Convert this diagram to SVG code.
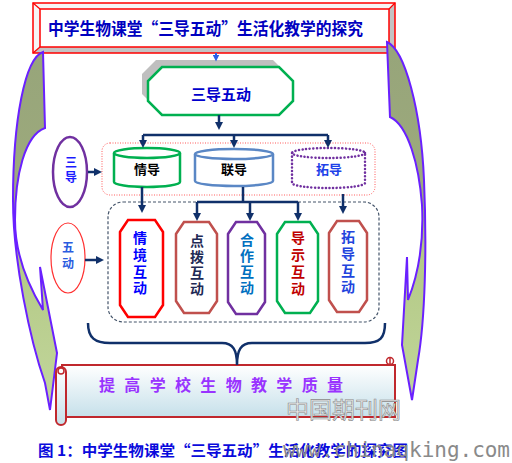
<svg xmlns="http://www.w3.org/2000/svg" width="512" height="463" viewBox="0 0 512 463">
<style>
text{font-family:"Noto Sans CJK SC","Noto Sans",sans-serif;font-weight:bold}
.c{text-anchor:middle}
.nv{stroke:#10306a;stroke-width:2.5;fill:none}
.big{fill:url(#ga);stroke:#6a20ff;stroke-width:2}
.oct{fill:#fff;stroke-width:2.5}
.v{font-size:14px;writing-mode:vertical-rl;text-orientation:upright}
.v12{font-size:12px;writing-mode:vertical-rl;text-orientation:upright}
</style>
<defs>
<marker id="ah" viewBox="0 0 10 10" refX="5" refY="5" markerWidth="3.2" markerHeight="3.2" orient="auto"><path d="M0,0L10,5L0,10Z" fill="#10306a"/></marker>
<marker id="ab" viewBox="0 0 10 10" refX="5" refY="5" markerWidth="3.5" markerHeight="3.5" orient="auto"><path d="M0,0L10,5L0,10Z" fill="#2a5ee8"/></marker>
<linearGradient id="ga" gradientUnits="userSpaceOnUse" x1="0" y1="52" x2="0" y2="410">
<stop offset="0" stop-color="#97a57a"/><stop offset="0.45" stop-color="#9eab7d"/><stop offset="0.55" stop-color="#b3c985"/><stop offset="1" stop-color="#c2d69c"/>
</linearGradient>
<linearGradient id="gs" x1="0" y1="0" x2="0" y2="1">
<stop offset="0" stop-color="#ffffff"/><stop offset="1" stop-color="#c6e0ea"/>
</linearGradient>
</defs>
<rect width="512" height="463" fill="#fff"/>

<g id="title">
<polygon points="33,3 395,3 389,9 40,9" fill="#f6f6f6"/>
<polygon points="33,3 40,9 40,47 33,53" fill="#f6f6f6"/>
<polygon points="395,3 395,53 389,47 389,9" fill="#c4c4c4"/>
<polygon points="33,53 395,53 389,47 40,47" fill="#c4c4c4"/>
<rect x="40" y="9" width="349" height="38" fill="#fff" stroke="#ff0000" stroke-width="1.5"/>
<rect x="33" y="3" width="362" height="50" fill="none" stroke="#ff0000" stroke-width="1.5"/>
<path d="M33,3L40,9M395,3L389,9M33,53L40,47M395,53L389,47" stroke="#ff0000" stroke-width="1.2"/>
<text x="48" y="35" font-size="16.5" fill="#0000c0" textLength="315" lengthAdjust="spacingAndGlyphs">中学生物课堂“三导五动”生活化教学的探究</text>
</g>

<g id="leftArrow"><path class="big" d="M43,52 C25,58 13,120 13,200 C13,260 30,340 45,383 L50,410 L57,353 L40,267 L43,310 C25,280 15,250 15,220 C15,175 25,135 45,128 Z"/></g>
<g id="rightArrow"><path class="big" d="M387,42 C405,50 421,110 424,180 C427,250 425,320 418,360 L412,400 L402,345 L407,257 L408,300 C418,275 424,245 422,205 C419,165 408,125 390,117 Z"/></g>

<g id="main">
<polygon points="156,60 273,60 287,74 287,94 273,108 156,108 142,94 142,74" fill="#bfbfbf"/>
<polygon class="oct" stroke="#00b050" points="162,67 279,67 293,81 293,101 279,115 162,115 148,101 148,81"/>
<text class="c" x="221" y="100" font-size="15" fill="#0000cc">三导五动</text>
</g>

<g id="sandao">
<ellipse cx="70" cy="172" rx="17" ry="35" fill="#fff" stroke="#7030a0" stroke-width="2.5"/>
<text class="v12" x="71" y="156" letter-spacing="3" fill="#1a1aff">三导</text>
</g>
<g id="wudong">
<ellipse cx="68" cy="258" rx="17" ry="35" fill="#fff" stroke="#ff3030" stroke-width="1.2"/>
<text class="v12" x="68" y="241" letter-spacing="4" fill="#2a5ce0">五动</text>
</g>

<g id="daoGroup"><rect x="102" y="143" width="273" height="52" rx="8" fill="none" stroke="#ff5a5a" stroke-width="1" stroke-dasharray="1 1.5"/></g>
<g id="dongGroup"><rect x="108" y="202" width="271" height="120" rx="15" fill="none" stroke="#44546a" stroke-width="1.2" stroke-dasharray="3 2"/></g>

<g id="qingdao">
<path d="M114,153 L114,182 A33,5 0 0 0 180,182 L180,153" fill="#fff" stroke="#00b050" stroke-width="2.5"/>
<ellipse cx="147" cy="153" rx="33" ry="5" fill="#fff" stroke="#00b050" stroke-width="2.5"/>
<text class="c" x="147" y="174" font-size="13" fill="#000">情导</text>
</g>
<g id="liandao">
<path d="M195,154 L195,181 A39,5 0 0 0 273,181 L273,154" fill="#fff" stroke="#5a87c5" stroke-width="2.5"/>
<ellipse cx="234" cy="154" rx="39" ry="5" fill="#fff" stroke="#5a87c5" stroke-width="2.5"/>
<text class="c" x="234" y="174" font-size="13" fill="#000">联导</text>
</g>
<g id="tuodao">
<path d="M292,153 L292,183 A36.5,5 0 0 0 365,183 L365,153" fill="#fff" stroke="#7030a0" stroke-width="2.5" stroke-dasharray="0.1 3.5" stroke-linecap="round"/>
<ellipse cx="328.5" cy="153" rx="36.5" ry="5" fill="none" stroke="#7030a0" stroke-width="2.5" stroke-dasharray="0.1 3.5" stroke-linecap="round"/>
<text class="c" x="329" y="174" font-size="13" fill="#2040e8">拓导</text>
</g>

<g id="hd1">
<polygon class="oct" stroke="#ff0000" stroke-width="3" points="128,220 155,220 163,232 163,305 155,317 128,317 120,305 120,232"/>
<text class="v" x="140" y="231" letter-spacing="2.7" fill="#0000ff">情境互动</text>
</g>
<g id="hd2">
<polygon class="oct" stroke="#c0504d" points="184,222 209,222 217,234 217,301 209,313 184,313 176,301 176,234"/>
<text class="v" x="197" y="234" letter-spacing="2" fill="#1f2a55">点拨互动</text>
</g>
<g id="hd3">
<polygon class="oct" stroke="#7030a0" points="236,222 257,222 265,234 265,302 257,314 236,314 228,302 228,234"/>
<text class="v" x="247" y="233" letter-spacing="2" fill="#0070c0">合作互动</text>
</g>
<g id="hd4">
<polygon class="oct" stroke="#00b050" points="285,222 310,222 318,234 318,301 310,313 285,313 277,301 277,234"/>
<text class="v" x="298" y="231" letter-spacing="3" fill="#c00000">导示互动</text>
</g>
<g id="hd5">
<polygon class="oct" stroke="#c0504d" points="337,221 359,221 367,233 367,300 359,312 337,312 329,300 329,233"/>
<text class="v" x="348" y="230" letter-spacing="2.7" fill="#2244dd">拓导互动</text>
</g>

<g id="scroll">
<rect x="62" y="365" width="333" height="52" fill="url(#gs)" stroke="#c0282d" stroke-width="2"/>
<rect x="56" y="367" width="10" height="58" rx="5" fill="url(#gs)" stroke="#c0282d" stroke-width="2"/>
<circle cx="61" cy="371" r="3" fill="none" stroke="#c0282d" stroke-width="1.5"/>
<circle cx="390" cy="361" r="3.5" fill="none" stroke="#c0282d" stroke-width="1.5"/>
<path d="M390,358V366" stroke="#c0282d" stroke-width="1.5"/>
<text x="99" y="391" font-size="16" fill="#9933ff" textLength="244" lengthAdjust="spacing">提 高 学 校 生 物 教 学 质 量</text>
</g>

<g id="connectors">
<line x1="216" y1="53" x2="216" y2="58" stroke="#2a5ee8" stroke-width="2" marker-end="url(#ab)"/>
<line class="nv" x1="219" y1="115" x2="219" y2="126" marker-end="url(#ah)"/>
<line class="nv" x1="143" y1="135" x2="328" y2="135"/>
<line class="nv" x1="143" y1="135" x2="143" y2="144" marker-end="url(#ah)"/>
<line class="nv" x1="234" y1="135" x2="234" y2="144" marker-end="url(#ah)"/>
<line class="nv" x1="328" y1="135" x2="328" y2="144" marker-end="url(#ah)"/>
<line class="nv" x1="88" y1="172" x2="98" y2="172" marker-end="url(#ah)"/>
<line class="nv" x1="85" y1="260" x2="100" y2="260" marker-end="url(#ah)"/>
<line class="nv" x1="142" y1="187" x2="142" y2="209" marker-end="url(#ah)"/>
<line class="nv" x1="243" y1="187" x2="243" y2="202"/>
<line class="nv" x1="197" y1="202" x2="298" y2="202"/>
<line class="nv" x1="197" y1="202" x2="197" y2="217" marker-end="url(#ah)"/>
<line class="nv" x1="250" y1="202" x2="250" y2="217" marker-end="url(#ah)"/>
<line class="nv" x1="298" y1="202" x2="298" y2="217" marker-end="url(#ah)"/>
<line class="nv" x1="343" y1="194" x2="343" y2="210" marker-end="url(#ah)"/>
<path class="nv" stroke-width="3" d="M88,323 C88,338 95,343 110,343 L222,343 C233,343 237,350 237,365 C237,350 241,343 252,343 L365,343 C380,343 385,338 385,323"/>
</g>

<text id="caption" x="38" y="456" font-size="15" fill="#0a0adc" textLength="370" lengthAdjust="spacingAndGlyphs">图 1：中学生物课堂“三导五动”生活化教学的探究图</text>
<text x="286" y="418" font-size="23" fill="#e8e8e8" stroke="#8a8a8a" stroke-width="0.6" style="font-weight:normal">中国期刊网</text>
<text x="283" y="457" font-size="21" fill="#8a8a8a" style="font-family:'DejaVu Sans Mono',monospace;font-weight:normal" textLength="227" lengthAdjust="spacing">www.chinaqking.com</text>
</svg>
